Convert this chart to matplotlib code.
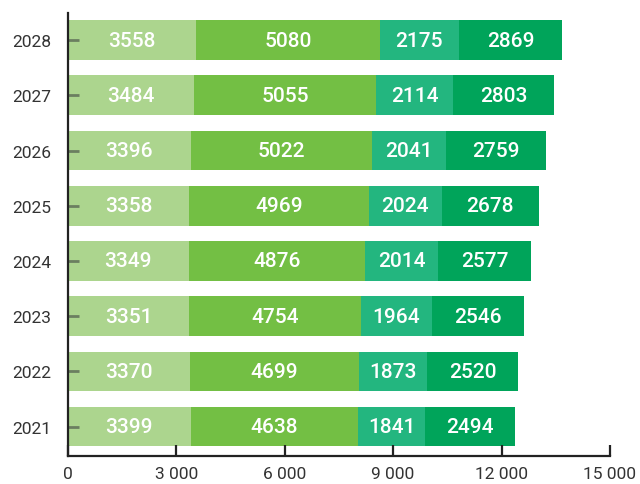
import matplotlib
matplotlib.use("Agg")
import numpy as np
import matplotlib.pyplot as plt
from matplotlib.ticker import FuncFormatter

plt.rcParams["font.family"] = ["Roboto", "DejaVu Sans"]

years = ["2021", "2022", "2023", "2024", "2025", "2026", "2027", "2028"]
seg1 = [3399, 3370, 3351, 3349, 3358, 3396, 3484, 3558]
seg2 = [4638, 4699, 4754, 4876, 4969, 5022, 5055, 5080]
seg3 = [1841, 1873, 1964, 2014, 2024, 2041, 2114, 2175]
seg4 = [2494, 2520, 2546, 2577, 2678, 2759, 2803, 2869]
colors = ["#acd58e", "#73bf44", "#23b67f", "#00a45a"]

fig = plt.figure(figsize=(6.4, 4.85), dpi=100)
ax = fig.add_axes([0.106, 0.058, 0.847, 0.913])

y = np.arange(len(years))
left = np.zeros(len(years))
for vals, c in zip([seg1, seg2, seg3, seg4], colors):
    vals = np.array(vals, dtype=float)
    ax.barh(y, vals, left=left, height=0.72, color=c, zorder=1)
    for yi, l, v in zip(y, left, vals):
        ax.text(l + v / 2, yi, f"{int(v)}", ha="center", va="center",
                color="white", fontsize=15, fontweight="medium", zorder=3)
    left += vals

ax.set_xlim(0, 15000)
ax.set_ylim(-0.53, 7.49)
ax.set_xticks(np.arange(0, 15001, 3000))
ax.xaxis.set_major_formatter(FuncFormatter(lambda v, p: f"{int(v):,}".replace(",", " ")))
ax.set_yticks(y)
ax.set_yticklabels(years)

for s in ["top", "right"]:
    ax.spines[s].set_visible(False)
for s in ["left", "bottom"]:
    ax.spines[s].set_linewidth(1.6)
    ax.spines[s].set_color("#222222")
    ax.spines[s].set_zorder(4)

ax.tick_params(axis="x", direction="in", length=8, width=1.6, color="#222222",
               labelsize=12.5, labelcolor="#333333", pad=7)
ax.tick_params(axis="y", direction="in", length=8, width=2, color="#6b7f60",
               labelsize=12.5, labelcolor="#333333", pad=12)
for t in ax.xaxis.get_major_ticks() + ax.yaxis.get_major_ticks():
    t.tick1line.set_zorder(5)
ax.set_axisbelow(False)

fig.savefig("out.png", dpi=100, facecolor="white")
